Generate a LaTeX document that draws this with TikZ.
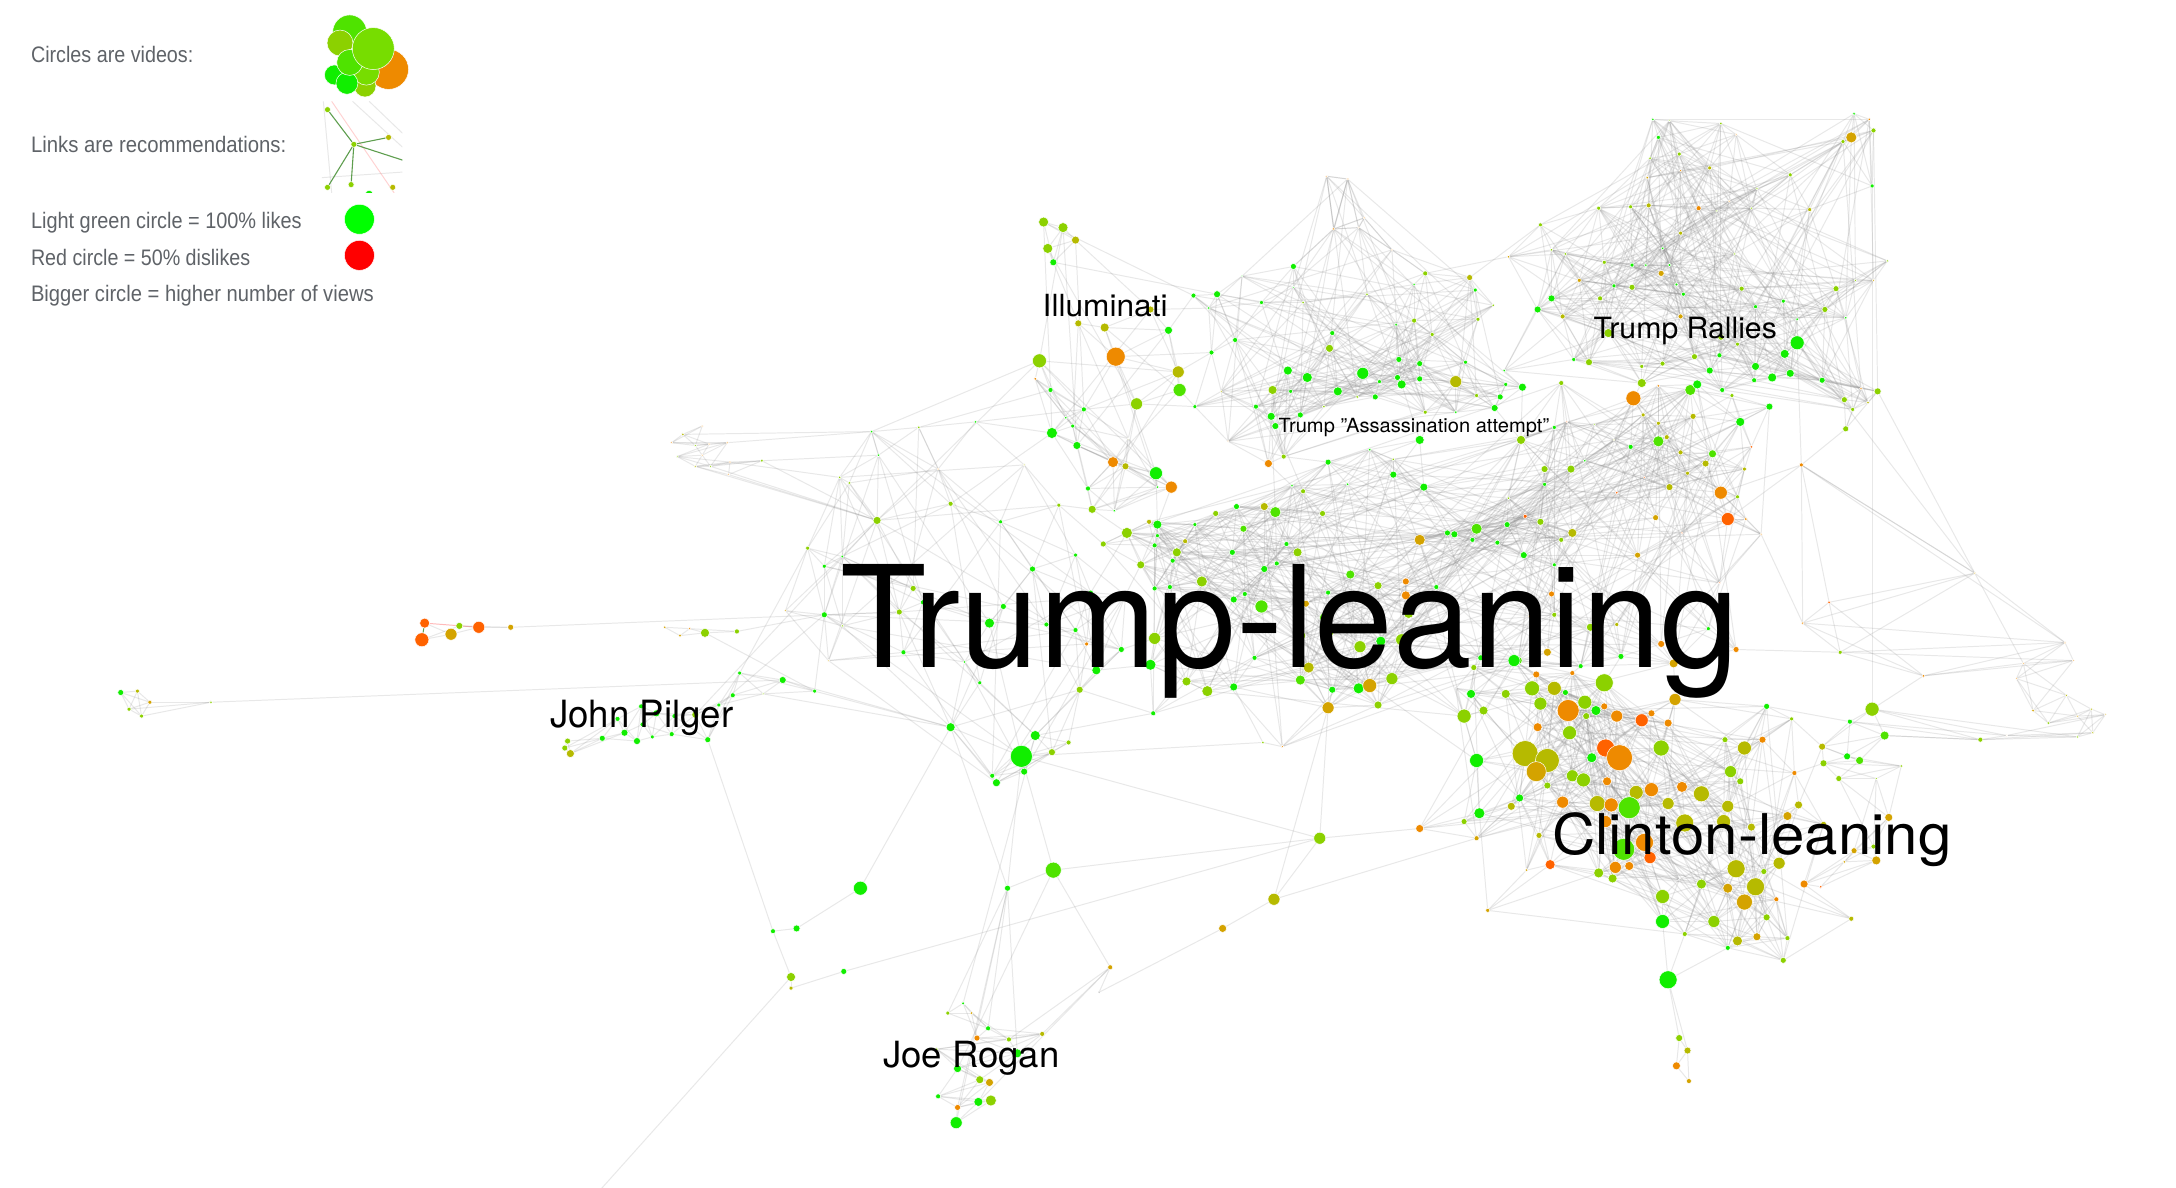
\documentclass[tikz,border=0pt]{standalone}
\usepackage{fontspec}
\setmainfont{TeX Gyre Heros}
\newfontfamily\legendfont{Liberation Sans}
\usetikzlibrary{backgrounds}

\definecolor{vg}{HTML}{11EE00}
\definecolor{lg}{HTML}{4FE300}
\definecolor{lm}{HTML}{8CD100}
\definecolor{lmb}{HTML}{77DD00}
\definecolor{ol}{HTML}{B6BA00}
\definecolor{gd}{HTML}{D4A300}
\definecolor{og}{HTML}{EE8A00}
\definecolor{rd}{HTML}{FF6200}
\definecolor{bk}{HTML}{111111}
\definecolor{purelike}{HTML}{00FF00}
\definecolor{puredis}{HTML}{FF0000}
\definecolor{legendgray}{HTML}{5F6368}
\definecolor{linkgreen}{HTML}{5E9E4E}

\tikzset{
  vid/.style={circle, inner sep=0pt, fill=#1, draw=white, line width=0.2pt},
  link/.style={draw=black!45, opacity=0.2, line width=0.4pt},
  lab/.style={anchor=base west, inner sep=0pt, text=black},
  legtext/.style={anchor=base west, inner sep=0pt, text=legendgray,
    font=\legendfont\fontsize{9.2pt}{11pt}\selectfont}
}

% one group of videos: prefix, list x/y/diameter/colour
\newcommand\videos[2]{%
  \foreach \vx/\vy/\vd/\vc [count=\vn] in {#2}{%
    \node[vid=\vc, minimum size=\vd*0.0144cm] (#1\vn) at (\vx,\vy) {};
    \expandafter\xdef\csname #1x\vn\endcsname{\vx}%
    \expandafter\xdef\csname #1y\vn\endcsname{\vy}%
    \xdef\lastn{\vn}}}
% recommendations along the list: prefix, count, steps
\newcommand\webgroup[3]{%
  \foreach \wi in {1,...,#2}{%
    \foreach \wk in {#3}{%
      \pgfmathtruncatemacro\wj{\wi+\wk}%
      \ifnum\wj>#2\relax\else\draw[link] (#1\wi) -- (#1\wj);\fi}}}
% recommendations between near videos: prefix, count, short range, long range
\newcommand\nearweb[4]{%
  \foreach \wi in {1,...,#2}{%
    \ifnum\wi<#2\relax
    \pgfmathtruncatemacro\wjs{\wi+1}%
    \foreach \wj in {\wjs,...,#2}{%
      \edef\dx{\the\numexpr\csname #1x\wi\endcsname-\csname #1x\wj\endcsname\relax}%
      \edef\dy{\the\numexpr\csname #1y\wi\endcsname-\csname #1y\wj\endcsname\relax}%
      \edef\dq{\the\numexpr\dx*\dx+\dy*\dy\relax}%
      \edef\hh{\the\numexpr\wi*37+\wj*61+\wi*\wj\relax}%
      \ifnum\dq<\numexpr#3*#3\relax
        \ifnum\numexpr\hh-(\hh/3)*3\relax=0 \else\draw[link] (#1\wi) -- (#1\wj);\fi
      \else
        \ifnum\dq<\numexpr#4*#4\relax
          \ifnum\numexpr\hh-(\hh/11)*11\relax=0 \draw[link] (#1\wi) -- (#1\wj);\fi
        \fi
      \fi}%
    \fi}}

\begin{document}
\begin{tikzpicture}[x=0.02cm, y=-0.02cm]
  \useasboundingbox (0,0) rectangle (1568,856);
  \begin{scope}[on background layer]
    \fill[white] (0,0) rectangle (1568,856);
  \end{scope}

  % far left
  \videos{a}{87/499/6/vg, 99/498/4/ol, 108/506/4/gd, 93/511/4/lm, 102/516/4/lm, 152/506/3/lm}
  \begin{scope}[on background layer]\webgroup{a}{\lastn}{1,2,3}\end{scope}
  \videos{b}{306/449/10/rd, 304/461/14/rd, 325/457/12/gd, 331/451/7/lm, 345/452/12/rd, 368/452/6/gd}
  \begin{scope}[on background layer]\webgroup{b}{\lastn}{2}
    \draw[red!45, opacity=0.6, line width=0.4pt] (b1) -- (b5);
    \draw[linkgreen, line width=0.4pt] (b1) -- (b2);
    \draw[link] (b2) -- (b3); \draw[link] (b4) -- (b5); \draw[link] (b5) -- (b6);
  \end{scope}
  \videos{c}{479/452/3/gd, 490/458/3/gd, 497/453/2.5/og, 508/456/9/lm, 531/455/5/lm}
  \begin{scope}[on background layer]\webgroup{c}{\lastn}{1,2}\end{scope}
  \videos{d}{506/307/2/og, 492/313/3/ol, 484/319/2/og, 501/321/2.5/lm, 511/320/2/og, 524/319/2/og,
    506/328/2/og, 488/329/2/lm, 512/336/2.5/lm, 501/336/2.5/ol, 526/333/2/og, 549/332/3/lm, 525/342/2/og}
  \begin{scope}[on background layer]\webgroup{d}{\lastn}{1,2,3}\end{scope}

  % John Pilger
  \videos{p}{409/534/6/lm, 407/539/6/lm, 411/543/8/ol, 434/532/6/vg, 445/518/5/vg, 450/528/7/vg,
    459/534/7/vg, 462/509/5/vg, 463/522/5/vg, 470/531/4/vg, 473/514/7/vg, 484/529/5/vg, 486/516/5/vg,
    501/515/7/lm, 510/533/6/vg, 518/508/4/vg, 528/501/5/vg, 533/485/4/vg, 550/500/2/lm, 564/490/7/vg,
    587/498/4/vg}
  \begin{scope}[on background layer]\webgroup{p}{\lastn}{1,2,3}\end{scope}

  % left of the main web
  \videos{e}{632/375/8/lm, 628/311/3/vg, 633/328/3/vg, 662/308/3/lm, 703/304/3/vg, 676/338/2/og,
    738/335/2/ol, 605/344/3/lm, 612/348/3/lm, 685/363/5/lm, 721/376/4/vg, 763/364/4/lm, 582/395/4/lm,
    607/401/3/vg, 594/408/4/vg, 658/424/6/lm, 594/443/6/vg, 566/440/2/gd, 607/451/2.5/lm, 648/441/6/lm,
    665/434/5/vg, 651/470/5/vg, 597/476/2/gd, 695/477/3/vg, 706/492/4/vg, 685/524/9/vg, 723/437/6/vg,
    713/449/10/vg, 744/410/6/vg, 775/400/4/vg, 754/450/5/vg, 786/427/5/vg, 775/454/5/vg, 783/464/4/og,
    811/429/5/vg, 808/468/6/vg, 790/483/9/vg, 778/497/7/lm, 746/530/10/vg, 770/535/5/lm, 758/542/7/lm,
    736/545/22/vg, 738/556/7/vg, 715/559/5/vg, 718/564/8/vg}
  \begin{scope}[on background layer]\nearweb{e}{\lastn}{60}{200}\end{scope}

  % Illuminati
  \videos{i}{752/160/10/lm, 766/164/10/lm, 775/173/8/ol, 755/179/10/lm, 759/189/7/vg, 829/223/7/ol,
    777/233/7/ol, 796/236/9/ol, 804/257/19/og, 749/260/14/lm, 746/273/3/og, 757/281/5/vg, 842/238/8/vg,
    849/268/12/ol, 850/281/13/lg, 819/291/12/lm, 781/295/5/vg, 768/301/3/vg, 773/307/4/vg, 758/312/11/vg,
    776/321/8/vg, 802/333/11/og, 811/336/7/ol, 833/341/13/vg, 844/351/12/og, 834/351/3/vg, 784/352/5/vg,
    787/367/8/lm, 803/368/3/vg, 813/316/1.5/ol}
  \begin{scope}[on background layer]\nearweb{i}{\lastn}{50}{160}\end{scope}

  % upper middle
  \videos{t}{956/127/2/og, 971/129/2/og, 961/165/2.5/og, 979/164/1.5/og, 983/157/2/og, 1003/180/1.5/og,
    860/213/5/vg, 877/212/7/vg, 871/222/3/vg, 895/199/1.5/vg, 932/192/6/vg, 932/207/2/vg, 909/218/4/vg,
    939/218/3/lm, 890/245/5/vg, 873/254/5/vg, 880/282/2/ol, 861/293/4/vg, 928/267/9/vg, 917/281/9/lm,
    930/282/4/vg, 905/293/5/vg, 916/300/8/vg, 919/307/7/vg, 885/318/1.5/og, 925/329/5/lm, 914/334/8/og,
    937/299/6/vg, 954/293/3/lm, 942/272/10/vg, 960/240/5/vg, 958/251/8/lm, 964/282/9/vg, 978/286/3/lm,
    982/269/12/vg, 985/212/3/lm, 1006/234/3/vg, 1019/231/5/lm, 1019/205/2.5/vg, 1027/197/5/lm,
    1032/241/4/lm, 1008/259/6/vg, 1023/262/6/vg, 994/275/4/vg, 1007/272/6/vg, 1010/277/9/vg,
    1023/273/6/vg, 991/286/6/vg, 1027/297/4/lm, 1049/297/3/vg, 1049/275/12/ol, 1056/261/4/vg,
    1059/200/6/ol, 1063/209/4/vg, 1076/220/3/lm, 1065/230/4/lm, 1064/285/4/lm, 1081/286/6/vg,
    1077/294/7/vg, 1085/277/4/vg, 1097/279/8/vg}
  \begin{scope}[on background layer]\nearweb{t}{\lastn}{50}{200}
    \webgroup{t}{6}{1,2}\end{scope}

  % Trump rallies
  \videos{u}{1191/86/3/vg, 1203/87/2/lm, 1195/99/4/vg, 1240/89/3/lm, 1251/97/2/og, 1210/111/4/lm,
    1189/114/3/lm, 1232/121/4/ol, 1211/123/2.5/og, 1187/128/3/gd, 1336/82/3/vg, 1347/86/3/og,
    1334/99/11/gd, 1328/102/4/lm, 1350/94/5/lm, 1349/134/4/vg, 1290/126/4/lm, 1304/151/4/ol,
    1266/136/2.5/lm, 1262/150/2.5/lm, 1246/145/2/og, 1224/150/5/og, 1237/152/2/lm, 1188/148/5/ol,
    1175/149/4/lm, 1152/150/4/lm, 1110/162/4/lm, 1211/168/4/ol, 1198/179/3/vg, 1250/183/2.5/lm,
    1087/185/3/gd, 1118/180/3/lm, 1128/183/3/lm, 1156/189/4/lm, 1138/202/4/gd, 1176/191/4/vg,
    1186/191/3/vg, 1203/191/3.5/vg, 1197/197/6/gd, 1208/205/3.5/vg, 1163/206/4/vg, 1176/207/6/lm,
    1213/212/4/vg, 1255/208/5/lm, 1153/215/5/lm, 1118/215/7/vg, 1108/223/7/vg, 1126/228/5/ol,
    1285/217/4/vg, 1265/221/4/vg, 1295/230/3/vg, 1323/208/6/lm, 1315/223/6/lm, 1330/229/3/vg,
    1337/202/2.5/lm, 1350/202/2.5/gd, 1360/188/2.5/lm, 1211/228/5/gd, 1159/240/9/lm, 1240/243/6/lm,
    1252/248/4/lm, 1295/247/14/vg, 1286/255/9/vg, 1134/259/4/vg, 1145/261/7/lm, 1084/267/3/vg,
    1183/264/4/lm, 1198/262/5/lm, 1221/257/6/lm, 1239/256/5/vg, 1232/267/7/vg, 1265/264/8/vg,
    1277/272/9/vg, 1290/269/8/vg, 1264/274/5/vg, 1241/281/5/vg, 1183/276/9/lm, 1313/274/6/vg,
    1329/288/6/lm, 1335/295/4/lm, 1346/290/3/ol, 1353/282/7/lm, 1341/280/2.5/og, 1330/309/6/lm}
  \begin{scope}[on background layer]\nearweb{u}{\lastn}{55}{220}\end{scope}

  % centre band
  \videos{v}{1125/276/5/lm, 1195/278/3/og, 1218/281/11/lg, 1223/277/9/vg, 1248/285/4/lm,
    1275/293/7/vg, 1177/287/15/og, 1184/299/4/ol, 1195/305/4/ol, 1220/300/6/ol, 1254/304/9/vg,
    1195/318/11/lg, 1201/315/5/ol, 1175/322/5/vg, 1163/317/2/ol, 1149/306/2/lm, 1129/304/2/rd,
    1120/308/4/vg, 1096/317/9/lm, 1211/326/5/ol, 1234/327/8/lg, 1229/334/7/ol, 1216/341/4/ol,
    1257/338/4/ol, 1262/322/3/rd, 1203/351/7/ol, 1240/355/13/og, 1252/358/4/lm, 1245/374/13/rd,
    1258/374/3/og, 1269/385/2/og, 1239/420/2/rd, 1212/384/2/rd, 1193/373/6/gd, 1185/344/2/rd,
    1165/355/3/rd, 1180/400/6/gd, 1142/332/3/vg, 1132/338/8/lm, 1113/338/7/lm, 1113/349/4/vg,
    1087/359/3/lm, 1099/372/4/rd, 1110/376/7/lm, 1133/384/9/ol, 1125/389/5/lm, 1086/378/6/vg,
    1079/391/5/vg, 1098/400/7/vg, 1120/407/4/vg, 1118/428/6/og, 1120/443/5/lm, 1103/444/4/og,
    1146/452/8/lm, 1165/450/4/ol, 1168/473/6/vg, 1197/464/7/og, 1206/478/9/gd, 1231/453/4/vg,
    1251/468/6/og, 1139/480/5/vg, 1115/470/8/gd, 1094/476/8/lg, 1067/474/6/vg, 1064/381/11/lg,
    1061/389/5/vg, 1048/385/7/vg, 1043/384/6/vg, 1023/389/11/gd, 1035/423/5/vg, 1013/419/7/og,
    1013/429/9/og, 1015/442/10/lm, 1010/461/12/lm, 995/462/10/vg, 980/466/12/lm, 993/422/8/lm,
    973/414/9/lg, 957/427/5/vg, 954/445/9/lg, 957/456/11/lm, 938/458/8/lm, 941/435/7/gd,
    909/437/13/lg, 897/428/5/vg, 889/432/7/vg, 911/410/7/vg, 920/406/5/vg, 888/398/6/vg, 935/398/9/lm,
    927/392/5/vg, 896/381/7/lg, 876/370/6/lm, 891/365/6/vg, 911/365/8/ol, 919/369/11/lg, 953/370/6/lm,
    939/354/5/lm, 931/350/3/vg, 957/333/6/vg, 971/349/3/vg, 987/324/3/vg, 1004/331/3/lm,
    1004/342/7/vg, 1026/351/8/vg, 1023/317/9/vg, 861/378/4/vg, 866/419/11/lm, 845/404/5/vg,
    848/398/9/lm, 854/390/5/ol, 834/386/4/vg, 832/393/5/vg, 834/378/9/vg, 828/376/5/ol, 812/384/11/lm,
    795/392/6/lm, 822/407/8/lm, 832/424/5/vg, 843/423/5/vg, 832/460/12/lm, 829/479/11/vg,
    855/491/9/lm, 870/498/11/lm, 889/495/8/vg, 904/474/5/vg, 831/514/5/vg, 910/535/3/lm,
    924/538/2.5/og, 943/481/11/ol, 937/490/10/lg, 960/497/7/vg, 979/496/11/vg, 987/494/14/gd,
    1003/489/12/lm, 993/508/8/lm, 957/510/12/gd, 1055/516/14/lm, 1069/512/9/lm}
  \begin{scope}[on background layer]\nearweb{v}{\lastn}{48}{220}\end{scope}

  % Clinton side
  \videos{w}{1091/476/12/vg, 1062/481/6/lm, 1060/500/9/vg, 1085/500/9/lm, 1107/486/7/og,
    1133/485/5/og, 1104/496/15/lm, 1120/496/14/ol, 1128/499/6/vg, 1156/492/18/lm, 1207/504/12/gd,
    1110/507/13/lm, 1130/512/22/og, 1142/506/14/lm, 1150/512/10/vg, 1156/509/7/og, 1165/516/12/og,
    1143/516/7/lm, 1190/514/7/og, 1183/519/13/rd, 1202/521/8/og, 1108/524/9/og, 1131/528/14/lm,
    1064/548/14/vg, 1099/543/26/ol, 1115/548/24/ol, 1107/556/20/gd, 1147/546/10/vg, 1157/539/18/rd,
    1167/546/26/og, 1197/539/16/lm, 1243/533/6/lm, 1257/539/14/ol, 1270/533/7/og, 1247/556/12/lm,
    1254/563/7/lm, 1133/559/12/lm, 1141/562/14/lm, 1115/566/7/lm, 1158/563/9/og, 1095/575/8/vg,
    1089/581/8/ol, 1066/586/11/vg, 1055/592/6/lm, 1023/597/8/og, 1064/604/5/gd, 1072/656/4/gd,
    1109/602/6/ol, 1100/627/3/gd, 1117/623/10/rd, 1126/578/12/og, 1151/579/16/ol, 1161/580/14/og,
    1179/571/14/ol, 1190/569/14/og, 1174/582/22/lg, 1157/592/12/og, 1170/612/22/lg, 1185/607/18/og,
    1189/618/12/rd, 1164/625/12/og, 1174/624/9/og, 1152/629/10/lm, 1162/633/9/lm, 1212/567/11/og,
    1202/579/12/ol, 1226/572/16/ol, 1245/581/12/ol, 1242/592/14/ol, 1214/593/18/ol, 1262/596/8/ol,
    1288/588/9/gd, 1296/580/8/ol, 1314/594/6/ol, 1293/557/5/og, 1273/509/6/vg, 1291/518/4/lm,
    1282/622/12/ol, 1271/628/6/lm, 1251/626/18/ol, 1226/637/10/lm, 1245/640/10/gd, 1265/639/18/ol,
    1280/648/5/og, 1257/650/16/gd, 1235/664/12/lm, 1273/661/7/lm, 1266/675/8/gd, 1252/678/10/ol,
    1245/683/5/vg, 1288/676/5/lm, 1285/692/6/lm, 1334/662/5/ol, 1214/673/5/lm, 1198/646/14/lm,
    1198/664/14/vg, 1210/634/1.5/bk, 1049/496/1.5/bk}
  \begin{scope}[on background layer]\nearweb{w}{\lastn}{45}{170}\end{scope}

  % right side
  \videos{x}{1298/335/4/og, 1423/413/2/gd, 1318/434/3/rd, 1299/449/2.5/og, 1326/470/4/lm,
    1386/487/3/og, 1488/463/2/og, 1494/476/2/og, 1458/478/2/og, 1453/489/2/og, 1465/512/3/gd,
    1489/501/2.5/ol, 1476/521/3/lm, 1497/516/2/gd, 1507/511/2.5/ol, 1517/515/2/gd, 1508/528/2.5/ol,
    1497/531/2.5/lm, 1446/530/1.5/og, 1427/533/5/lm, 1349/511/14/lm, 1333/520/5/vg, 1358/530/9/lg,
    1313/538/7/ol, 1331/545/7/vg, 1340/548/8/lg, 1314/550/7/lm, 1370/552/3/lm, 1325/561/6/lm,
    1352/561/2.5/lm, 1361/589/8/gd, 1350/610/5/lm, 1336/613/6/gd, 1329/621/3/gd, 1352/620/9/gd,
    1300/637/8/og, 1312/639/3/rd}
  \begin{scope}[on background layer]\webgroup{x}{\lastn}{1,2,3}\end{scope}

  % lower part
  \videos{m}{726/640/6/vg, 759/627/16/lg, 800/697/5/gd, 792/715/1.5/bk, 881/669/8/gd, 918/648/12/ol, 951/604/12/lm}
  \begin{scope}[on background layer]\webgroup{m}{\lastn}{1}\end{scope}
  \videos{s}{620/640/14/vg, 574/669/7/vg, 557/671/5/vg, 570/704/9/lm, 570/712/4/ol, 608/700/6/vg}
  \begin{scope}[on background layer]\webgroup{s}{\lastn}{1}\end{scope}
  \videos{r}{683/730/4/lm, 694/723/3.5/vg, 700/730/3/gd, 712/741/5/vg, 704/748/6/og, 727/749/5/lm,
    751/745/5/ol, 733/759/9/vg, 675/756/3/lm, 690/770/8/vg, 706/778/8/lm, 713/780/8/gd, 676/790/5/vg,
    690/798/6/og, 705/794/9/vg, 714/793/11/lm, 689/809/12/vg}
  \begin{scope}[on background layer]\webgroup{r}{\lastn}{1,2,3}\end{scope}
  \videos{y}{1202/706/18/vg, 1210/748/7/lm, 1216/757/7/ol, 1208/768/8/og, 1217/779/5/gd}
  \begin{scope}[on background layer]\webgroup{y}{\lastn}{1,2}\end{scope}
  \coordinate (tailend) at (432,858);

  % recommendations between groups
  \begin{scope}[on background layer]
    \foreach \p/\q in {a6/p20, a1/a5, b6/e17, c5/e17, c4/p21, d12/e1, d9/e1, d10/e1, d13/e1, d2/e2,
      d6/e2, d11/e8, d12/e3, p21/e17, p18/e13, p20/e26, p16/e17, p21/e26, p19/e26, p15/s3, p14/e1,
      s1/e26, s6/m7, s4/tailend, m1/r1, m1/r4, m1/r8, m1/r14, m1/r17, m1/e42, m2/e42, m2/m7, m2/r10,
      m3/r6, m3/r7, m3/r15, m6/w46, m6/v137, m7/w45, m7/v137, m1/e26, r2/e39, e1/i10, e10/i20,
      e5/i20, e12/i28, e12/v117, e32/v116, e35/v118, e36/v121, e37/v122, e38/v127, e39/v127,
      e42/v128, e42/m7, e2/i10, e4/i12, e5/i17, e1/e10, e1/e16, e1/e20, e17/e22, e17/e20,
      i1/t7, i5/t8, i13/t7, i6/t9, i15/t18, i24/v114, i25/v114, i28/v116, i9/t16, i14/t16, i16/t18,
      t3/t11, t6/t40, t40/u31, t53/u27, t61/v19, t51/v106, t46/v106, t59/v19, t26/v100, t27/v99,
      t24/v98, t23/v96, u66/t61, u77/v7, u84/x1, u16/x21, u62/x1, v27/x1, v29/x1, v31/x4, v60/x5,
      v58/w11, v56/w10, v63/w1, v64/w2, v139/w3, v138/w24, v134/w24, v61/w6, w76/x22, w77/x24,
      w75/x27, w74/x36, w93/x36, w73/x24, w11/w76, x2/x1, x6/x21, x20/x23, x2/x7, x1/x7, x2/x9,
      x2/u82, x2/u62, y1/w96, y1/w94, y1/w90}
      \draw[link] (\p) -- (\q);
  \end{scope}

  % legend
  \node[legtext] (legcircles) at (22,45) {\resizebox{2.34cm}{\height}{Circles are videos:}};
  \node[legtext] (leglinks) at (22,110) {\resizebox{3.68cm}{\height}{Links are recommendations:}};
  \node[legtext] (leglikes) at (22,165) {\resizebox{3.9cm}{\height}{Light green circle = 100\% likes}};
  \node[legtext] (legdislikes) at (22,191) {\resizebox{3.16cm}{\height}{Red circle = 50\% dislikes}};
  \node[legtext] (legviews) at (22,217) {\resizebox{4.94cm}{\height}{Bigger circle = higher number of views}};

  \node[vid=og, minimum size=40*0.0144cm] (leg1) at (280,50) {};
  \node[vid=lg, minimum size=34*0.0144cm] (leg2) at (252,23) {};
  \node[vid=lm, minimum size=26*0.0144cm] (leg3) at (245,31) {};
  \node[vid=lm, minimum size=22*0.0144cm] (leg4) at (263,62) {};
  \node[vid=lmb, minimum size=26*0.0144cm] (leg5) at (264,52) {};
  \node[vid=vg, minimum size=20*0.0144cm] (leg6) at (241,54) {};
  \node[vid=vg, minimum size=22*0.0144cm] (leg7) at (250,60) {};
  \node[vid=lg, minimum size=26*0.0144cm] (leg8) at (252,45) {};
  \node[vid=lmb, minimum size=42*0.0144cm] (leg9) at (269,35) {};

  \begin{scope}
    \clip (232,73) rectangle (290,139);
    \coordinate (lkf1) at (233,73); \coordinate (lkf2) at (239,139);
    \coordinate (lkf3) at (239,73); \coordinate (lkf4) at (284,139);
    \coordinate (lkf5) at (254,73); \coordinate (lkf6) at (290,106);
    \coordinate (lkf7) at (266,73); \coordinate (lkf8) at (290,96);
    \coordinate (lkf9) at (232,128); \coordinate (lkf10) at (290,124);
    \draw[link] (lkf1) -- (lkf2);
    \draw[link] (lkf5) -- (lkf6);
    \draw[link] (lkf7) -- (lkf8);
    \draw[link] (lkf9) -- (lkf10);
    \draw[red!50, opacity=0.35, line width=0.4pt] (lkf3) -- (lkf4);
    \node[vid=lm, minimum size=6*0.0144cm] (lkhub) at (255,104) {};
    \node[vid=lm, minimum size=6*0.0144cm] (lk1) at (236,79) {};
    \node[vid=ol, minimum size=6*0.0144cm] (lk2) at (280,99) {};
    \node[vid=lm, minimum size=6*0.0144cm] (lk3) at (236,135) {};
    \node[vid=lm, minimum size=6*0.0144cm] (lk4) at (253,133) {};
    \node[vid=ol, minimum size=6*0.0144cm] (lk5) at (283,135) {};
    \node[vid=vg, minimum size=8*0.0144cm] (lk6) at (266,140) {};
    \coordinate (lk7) at (292,116);
    \foreach \k in {lk1,lk2,lk3,lk4,lk7}
      \draw[linkgreen, line width=0.45pt] (lkhub) -- (\k);
  \end{scope}

  \node[vid=purelike, minimum size=30*0.0144cm] (likedot) at (259,158) {};
  \node[vid=puredis, minimum size=30*0.0144cm] (dislikedot) at (259,184) {};

  % cluster names
  \node[lab, font=\fontsize{58pt}{60pt}\selectfont] (trumplean) at (605,481) {\resizebox{12.96cm}{\height}{Trump-leaning}};
  \node[lab, font=\fontsize{23pt}{25pt}\selectfont] (clintonlean) at (1118,616) {\resizebox{5.76cm}{\height}{Clinton-leaning}};
  \node[lab, font=\fontsize{12pt}{14pt}\selectfont] (rallies) at (1148,244) {\resizebox{2.64cm}{\height}{Trump Rallies}};
  \node[lab, font=\fontsize{8pt}{10pt}\selectfont] (attempt) at (921,312) {\resizebox{3.9cm}{\height}{Trump "Assassination attempt"}};
  \node[lab, font=\fontsize{12.5pt}{14pt}\selectfont] (illum) at (751,228) {\resizebox{1.8cm}{\height}{Illuminati}};
  \node[lab, font=\fontsize{15.4pt}{17pt}\selectfont] (pilger) at (396,524) {\resizebox{2.64cm}{\height}{John Pilger}};
  \node[lab, font=\fontsize{14.8pt}{17pt}\selectfont] (rogan) at (636,769) {\resizebox{2.54cm}{\height}{Joe Rogan}};
\end{tikzpicture}
\end{document}
